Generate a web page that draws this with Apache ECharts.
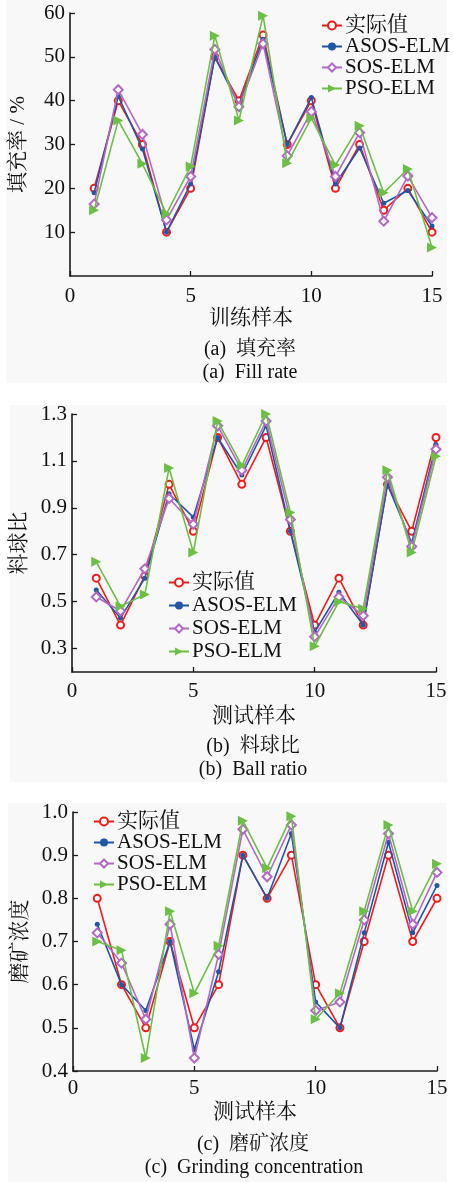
<!DOCTYPE html>
<html><head><meta charset="utf-8">
<script src="https://cdn.jsdelivr.net/npm/echarts@6/dist/echarts.min.js"></script>
<style>html,body{margin:0;padding:0;background:#fff}#c{width:453px;height:1182px}</style>
</head><body><div id="c"></div>
<script>
const samples = [1,2,3,4,5,6,7,8,9,10,11,12,13,14,15];
const seriesNames = ['实际值','ASOS-ELM','SOS-ELM','PSO-ELM'];
const xTicks = [0,5,10,15];

const fillTicks = [10,20,30,40,50,60];
const fillReal = [20,40,30,10,20,50,40,55,30,40,20,30,15,20,10];
const fillASOS = [19,41,29,10,21,50,39,54,30,40.7,21,29.2,16.6,19.5,11.4];
const fillSOS  = [16.4,42.5,32.3,12.8,22.7,51.7,38.6,53,27.4,37.5,22.7,32.7,12.5,22.8,13.3];
const fillPSO  = [15,35.5,25.6,14.2,25,54.8,35.5,59.4,25.7,36,25.3,34.3,19,24.4,6.5];

const ballTicks = [0.3,0.5,0.7,0.9,1.1,1.3];
const ballReal = [0.6,0.4,0.61,1.0,0.8,1.2,1.0,1.2,0.8,0.4,0.6,0.4,1.0,0.8,1.2];
const ballASOS = [0.55,0.43,0.6,0.96,0.86,1.2,1.04,1.25,0.8,0.37,0.54,0.4,1.0,0.75,1.17];
const ballSOS  = [0.52,0.46,0.64,0.94,0.83,1.25,1.06,1.27,0.85,0.35,0.52,0.44,1.03,0.735,1.15];
const ballPSO  = [0.67,0.48,0.53,1.07,0.71,1.27,1.08,1.3,0.88,0.31,0.5,0.47,1.06,0.71,1.12];

const grindTicks = [0.4,0.5,0.6,0.7,0.8,0.9,1.0];
const grindReal = [0.8,0.6,0.5,0.7,0.5,0.6,0.9,0.8,0.9,0.6,0.5,0.7,0.9,0.7,0.8];
const grindASOS = [0.74,0.6,0.54,0.7,0.45,0.63,0.9,0.8,0.95,0.56,0.5,0.72,0.93,0.72,0.83];
const grindSOS  = [0.72,0.65,0.52,0.74,0.43,0.67,0.96,0.85,0.97,0.54,0.56,0.75,0.95,0.74,0.86];
const grindPSO  = [0.7,0.68,0.43,0.77,0.58,0.69,0.98,0.87,0.99,0.52,0.58,0.77,0.97,0.77,0.88];

const FONT = 'Liberation Serif, Noto Serif CJK SC, Noto Sans CJK SC, serif';
const styles = [
  {color:'#f01c1c', symbol:'emptyCircle', symbolSize:7, rot:0},
  {color:'#1f57a6', symbol:'circle', symbolSize:5, rot:0},
  {color:'#b468c6', symbol:'emptyDiamond', symbolSize:9, rot:0},
  {color:'#6cbf45', symbol:'triangle', symbolSize:10, rot:-90}
];

function pairs(vals){ return samples.map((s,i)=>[s, vals[i]]); }
function mkSeries(idx, sets){
  return sets.map((vals,k)=>({
    type:'line', name:seriesNames[k], xAxisIndex:idx, yAxisIndex:idx,
    data:pairs(vals), symbol:styles[k].symbol, symbolSize:styles[k].symbolSize,
    symbolRotate:styles[k].rot, showAllSymbol:true,
    lineStyle:{color:styles[k].color, width:1.6},
    itemStyle:{color:styles[k].color, borderWidth:1.3},
    animation:false, z:2+k
  }));
}
const axisLineStyle = {show:true, onZero:false, lineStyle:{color:'#1a1a1a', width:1.6}};
function xAxis(idx, name, gap, margin){
  return {
    type:'value', gridIndex:idx, min:0, max:15, interval:5,
    axisLine:axisLineStyle, splitLine:{show:false},
    name:name, nameLocation:'middle', nameGap:gap,
    nameTextStyle:{fontFamily:FONT, fontSize:21, color:'#111'},
    axisLabel:{fontFamily:FONT, fontSize:21, color:'#111', margin:margin, customValues:xTicks},
    axisTick:{show:true, inside:true, length:5, customValues:xTicks, lineStyle:{color:'#1a1a1a', width:1.3}}
  };
}
function yAxis(idx, name, min, max, ticks, fmt, gap){
  return {
    type:'value', gridIndex:idx, min:min, max:max,
    axisLine:axisLineStyle, splitLine:{show:false},
    name:name, nameLocation:'middle', nameGap:gap, nameRotate:90,
    nameTextStyle:{fontFamily:FONT, fontSize:21, color:'#111'},
    axisLabel:{fontFamily:FONT, fontSize:21, color:'#111', margin:5, customValues:ticks,
      formatter:v=>fmt(v)},
    axisTick:{show:true, inside:true, length:5, customValues:ticks, lineStyle:{color:'#1a1a1a', width:1.3}}
  };
}
function legend(left, top, gap){
  return {orient:'vertical', left:left, top:top, padding:0, itemGap:gap,
    itemWidth:20, itemHeight:10, data:seriesNames,
    textStyle:{fontFamily:FONT, fontSize:21, color:'#111', padding:[0,0,0,-2]}};
}
function caption(x, y, t){
  return {type:'text', x:x, y:y, z:10,
    style:{text:t, fontFamily:FONT, fontSize:20, fill:'#111', textAlign:'center', textVerticalAlign:'middle'}};
}
function panelBg(x, y, w, h){
  return {type:'rect', shape:{x:x, y:y, width:w, height:h}, z:-10, silent:true, style:{fill:'#f8f8f8'}};
}

const chart = echarts.init(document.getElementById('c'), null, {renderer:'canvas'});
chart.setOption({
  backgroundColor:'#ffffff',
  animation:false,
  textStyle:{fontFamily:FONT},
  grid:[
    {left:69, top:13, width:363, height:263},
    {left:72, top:414, width:364, height:258},
    {left:73, top:812, width:364, height:259}
  ],
  xAxis:[
    xAxis(0, '训练样本', 31, 10),
    xAxis(1, '测试样本', 34, 9),
    xAxis(2, '测试样本', 31, 7)
  ],
  yAxis:[
    yAxis(0, '填充率 / %', 0, 60, fillTicks, v=>String(v), 41),
    yAxis(1, '料球比', 0.2, 1.3, ballTicks, v=>v.toFixed(1), 42),
    yAxis(2, '磨矿浓度', 0.4, 1.0, grindTicks, v=>v.toFixed(1), 42)
  ],
  legend:[ legend(321, 15, 0), legend(168, 572, 2), legend(93, 811, 0) ],
  series:[].concat(
    mkSeries(0,[fillReal,fillASOS,fillSOS,fillPSO]),
    mkSeries(1,[ballReal,ballASOS,ballSOS,ballPSO]),
    mkSeries(2,[grindReal,grindASOS,grindSOS,grindPSO])
  ),
  graphic:[
    panelBg(6,0,441,383), panelBg(10,405,437,377), panelBg(8,803,439,379),
    caption(250,350,'(a)  填充率'), caption(250,373,'(a)  Fill rate'),
    caption(253,747,'(b)  料球比'), caption(253,770,'(b)  Ball ratio'),
    caption(253,1145,'(c)  磨矿浓度'), caption(254,1168,'(c)  Grinding concentration')
  ]
});
</script></body></html>
